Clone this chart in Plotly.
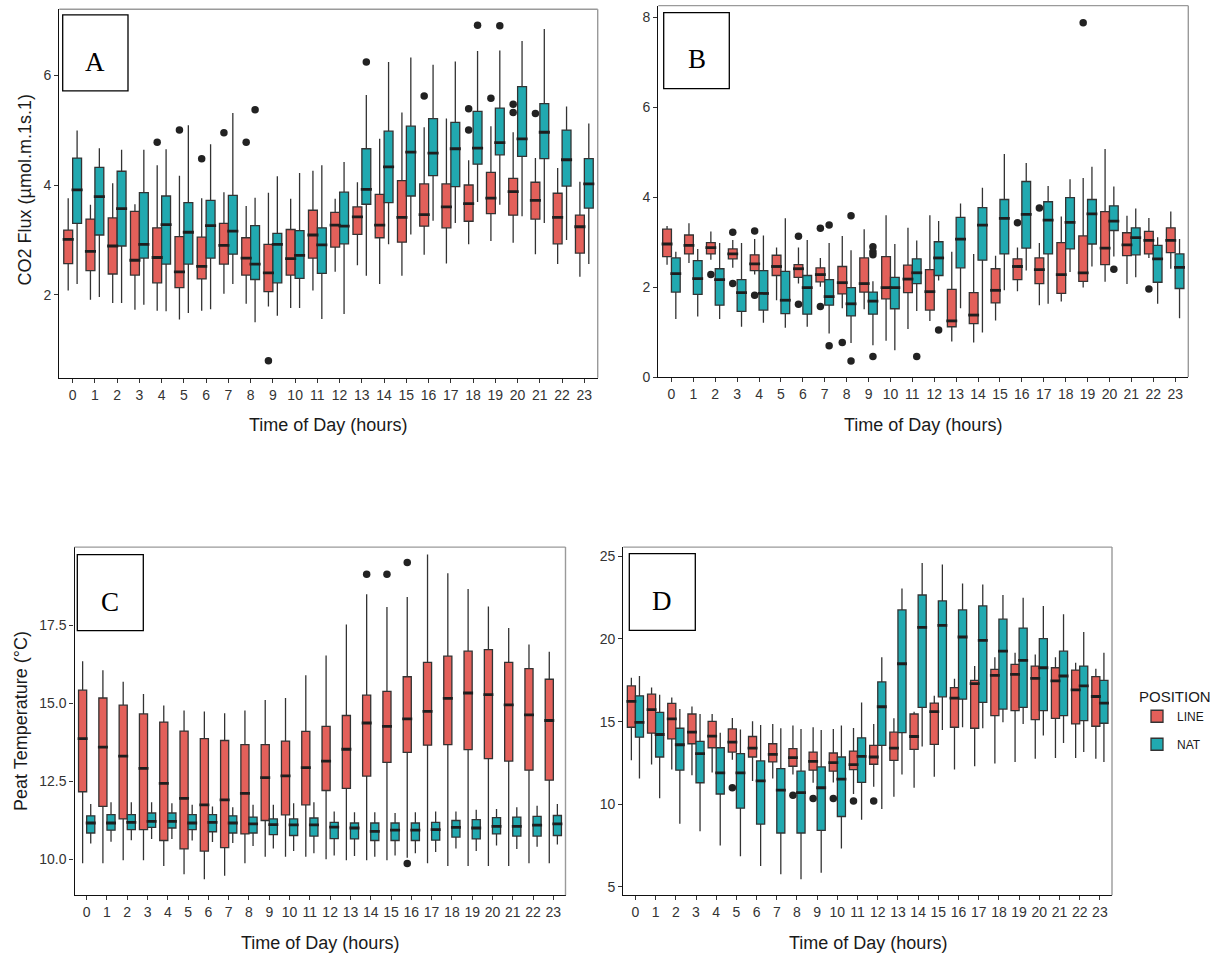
import plotly.graph_objects as go

# ---------------------------------------------------------------------------
# Hourly box statistics (q1, median, q3, whisker ends) for each panel
# ---------------------------------------------------------------------------
hours = list(range(24))
hour_labels = [str(h) for h in hours]

# A: CO2 flux
a_line_q3 = [3.18, 3.38, 3.40, 3.52, 3.22, 3.06, 3.05, 3.30, 3.04, 2.92, 3.19, 3.54, 3.50, 3.60, 3.83, 4.08, 4.02, 4.02, 4.00, 4.23, 4.12, 4.05, 3.85, 3.45]
a_line_med = [3.01, 2.79, 2.89, 2.63, 2.68, 2.42, 2.52, 2.90, 2.67, 2.40, 2.66, 3.09, 3.27, 3.42, 3.27, 3.41, 3.46, 3.60, 3.66, 3.76, 3.88, 3.72, 3.41, 3.24]
a_line_q1 = [2.57, 2.44, 2.38, 2.36, 2.22, 2.13, 2.29, 2.56, 2.36, 2.06, 2.36, 2.67, 2.87, 3.10, 3.04, 2.96, 3.25, 3.22, 3.34, 3.48, 3.45, 3.38, 2.93, 2.76]
a_line_hi = [3.76, 3.64, 4.03, 3.65, 4.36, 4.17, 3.76, 3.87, 3.62, 3.86, 3.75, 4.26, 3.75, 4.05, 4.84, 5.32, 5.05, 5.21, 4.45, 5.07, 4.96, 4.49, 4.31, 4.06]
a_line_lo = [2.08, 1.91, 1.85, 1.73, 1.71, 1.55, 1.71, 2.02, 1.84, 1.79, 1.76, 2.08, 2.42, 2.54, 2.20, 2.35, 2.73, 2.57, 2.92, 2.98, 2.95, 2.74, 2.56, 2.33]
a_line_out_h = [4, 5, 6, 7, 8, 9, 16, 18, 18, 19, 20, 20, 21]
a_line_out_v = [4.78, 5.00, 4.48, 4.95, 4.78, 0.80, 5.62, 5.39, 5.00, 5.58, 5.47, 5.32, 5.30]

a_nat_q3 = [4.49, 4.32, 4.25, 3.86, 3.80, 3.68, 3.72, 3.81, 3.26, 3.12, 3.17, 3.22, 3.87, 4.66, 4.98, 5.07, 5.21, 5.14, 5.34, 5.40, 5.79, 5.48, 5.00, 4.48]
a_nat_med = [3.91, 3.79, 3.57, 2.92, 3.28, 3.14, 3.26, 3.16, 2.56, 2.92, 2.72, 2.91, 3.25, 3.92, 4.33, 4.60, 4.58, 4.66, 4.67, 4.77, 4.84, 4.96, 4.46, 4.02]
a_nat_q1 = [3.30, 3.09, 2.89, 2.67, 2.56, 2.56, 2.67, 2.74, 2.28, 2.22, 2.30, 2.39, 2.93, 3.65, 3.68, 3.80, 4.17, 3.97, 4.38, 4.55, 4.52, 4.48, 3.98, 3.58]
a_nat_hi = [4.99, 4.67, 4.64, 4.64, 4.65, 5.09, 4.74, 5.31, 3.77, 4.16, 4.22, 4.36, 4.42, 5.64, 6.24, 6.32, 6.19, 6.25, 6.44, 6.45, 6.62, 6.84, 5.43, 5.12]
a_nat_lo = [2.20, 1.96, 1.85, 1.82, 1.70, 1.67, 1.74, 2.20, 1.50, 1.62, 1.76, 1.56, 1.65, 2.35, 2.92, 3.10, 3.35, 3.31, 3.69, 3.64, 3.43, 3.31, 3.00, 2.56]
a_nat_out_h = [8, 13, 18, 19]
a_nat_out_v = [5.37, 6.24, 6.91, 6.90]

# B: second flux panel
b_line_q3 = [3.29, 3.16, 2.99, 2.85, 2.72, 2.71, 2.50, 2.43, 2.46, 2.65, 2.68, 2.49, 2.39, 1.95, 1.88, 2.41, 2.63, 2.65, 2.99, 3.14, 3.68, 3.21, 3.24, 3.32]
b_line_med = [2.96, 2.93, 2.88, 2.74, 2.52, 2.46, 2.41, 2.28, 2.10, 2.08, 1.99, 2.18, 1.90, 1.25, 1.38, 1.93, 2.46, 2.39, 2.28, 2.32, 2.87, 2.94, 3.04, 3.04]
b_line_q1 = [2.68, 2.74, 2.74, 2.63, 2.37, 2.26, 2.22, 2.12, 1.85, 1.89, 1.74, 1.88, 1.49, 1.12, 1.19, 1.65, 2.17, 2.08, 1.86, 2.13, 2.50, 2.70, 2.74, 2.77]
b_line_hi = [3.36, 3.42, 3.24, 3.05, 3.07, 2.88, 2.88, 2.65, 3.14, 3.29, 3.60, 3.32, 3.60, 2.79, 2.74, 2.70, 2.88, 2.98, 3.57, 4.43, 5.07, 3.59, 3.54, 3.68]
b_line_lo = [2.50, 2.54, 2.61, 2.43, 2.28, 1.71, 2.08, 2.01, 1.53, 1.51, 0.81, 1.07, 1.25, 0.79, 0.77, 1.26, 1.91, 1.60, 1.68, 1.99, 2.12, 2.07, 2.65, 2.41]
b_line_out_h = [2, 3, 3, 4, 4, 6, 6, 7, 7, 8, 16, 17, 19, 22]
b_line_out_v = [2.28, 3.22, 2.08, 3.25, 1.82, 3.13, 1.62, 3.31, 1.57, 0.77, 3.43, 3.76, 7.88, 1.96]

b_nat_q3 = [2.65, 2.59, 2.41, 2.17, 2.37, 2.35, 2.26, 2.17, 1.99, 1.89, 2.22, 2.63, 3.01, 3.55, 3.77, 3.95, 4.35, 3.90, 3.99, 3.95, 3.81, 3.32, 2.93, 2.74]
b_nat_med = [2.30, 2.19, 2.17, 1.88, 1.86, 1.71, 1.99, 1.79, 1.63, 1.69, 1.99, 2.32, 2.65, 3.07, 3.38, 3.53, 3.62, 3.49, 3.44, 3.63, 3.47, 3.10, 2.63, 2.44]
b_nat_q1 = [1.89, 1.84, 1.60, 1.46, 1.49, 1.41, 1.40, 1.60, 1.36, 1.40, 1.52, 2.08, 2.26, 2.43, 2.60, 2.74, 2.87, 2.74, 2.85, 2.96, 3.26, 2.72, 2.11, 1.97]
b_nat_hi = [2.79, 2.85, 2.98, 2.98, 3.15, 3.53, 3.05, 2.98, 2.82, 2.13, 2.96, 3.04, 3.47, 3.86, 4.21, 4.96, 4.76, 4.25, 4.40, 4.68, 4.24, 3.75, 3.11, 3.07]
b_nat_lo = [1.29, 1.35, 1.29, 1.12, 1.21, 1.10, 1.12, 0.97, 0.76, 0.71, 0.60, 1.47, 2.15, 1.53, 0.99, 1.93, 2.37, 1.63, 2.34, 2.46, 2.68, 2.22, 1.63, 1.31]
b_nat_out_h = [7, 7, 8, 8, 9, 9, 9, 9, 11, 12, 20]
b_nat_out_v = [3.38, 0.70, 3.59, 0.36, 2.90, 2.79, 2.72, 0.46, 0.46, 1.05, 2.40]

# C: peat temperature
c_line_q3 = [15.42, 15.17, 14.94, 14.66, 14.40, 14.11, 13.87, 13.81, 13.68, 13.68, 13.79, 14.10, 14.26, 14.61, 15.26, 15.38, 15.85, 16.31, 16.51, 16.67, 16.72, 16.31, 16.11, 15.77]
c_line_med = [13.87, 13.60, 13.31, 12.92, 12.44, 11.96, 11.75, 11.91, 12.12, 12.62, 12.68, 12.94, 13.15, 13.53, 14.37, 14.26, 14.50, 14.74, 15.16, 15.33, 15.28, 14.95, 14.63, 14.45]
c_line_q1 = [12.17, 11.70, 11.30, 10.96, 10.61, 10.34, 10.27, 10.38, 10.82, 11.25, 11.43, 11.75, 12.21, 12.28, 12.67, 13.11, 13.43, 13.66, 13.68, 13.52, 13.23, 13.15, 12.86, 12.54]
c_line_hi = [16.35, 16.06, 15.69, 15.30, 14.93, 14.77, 14.74, 14.68, 14.77, 15.11, 15.17, 15.90, 16.53, 17.52, 18.49, 18.08, 18.40, 19.76, 19.16, 18.66, 18.10, 17.41, 16.88, 16.65]
c_line_lo = [9.88, 9.88, 9.98, 9.98, 9.79, 9.53, 9.37, 9.48, 9.88, 10.09, 10.09, 10.09, 10.01, 9.98, 9.98, 9.98, 10.06, 9.88, 9.79, 9.79, 9.79, 9.79, 9.88, 9.88]
c_line_out_h = [14, 15, 16, 16]
c_line_out_v = [19.13, 19.13, 19.51, 9.87]

c_nat_q3 = [11.40, 11.44, 11.44, 11.49, 11.49, 11.44, 11.44, 11.40, 11.36, 11.30, 11.30, 11.33, 11.19, 11.17, 11.17, 11.17, 11.17, 11.19, 11.25, 11.28, 11.34, 11.36, 11.38, 11.41]
c_nat_med = [11.17, 11.17, 11.19, 11.22, 11.22, 11.17, 11.19, 11.17, 11.14, 11.12, 11.11, 11.11, 11.04, 11.01, 10.90, 10.94, 10.94, 10.96, 11.03, 11.01, 11.06, 11.06, 11.10, 11.14]
c_nat_q1 = [10.85, 10.94, 10.96, 11.03, 11.01, 10.96, 10.89, 10.85, 10.85, 10.80, 10.77, 10.75, 10.67, 10.66, 10.61, 10.61, 10.61, 10.62, 10.72, 10.66, 10.82, 10.75, 10.75, 10.77]
c_nat_hi = [11.78, 11.83, 11.83, 11.83, 11.80, 11.75, 11.70, 11.67, 11.75, 11.75, 11.80, 11.83, 11.54, 11.51, 11.51, 11.49, 11.51, 11.54, 11.54, 11.59, 11.62, 11.67, 11.72, 11.78]
c_nat_lo = [10.51, 10.57, 10.62, 10.66, 10.66, 10.61, 10.56, 10.53, 10.43, 10.35, 10.27, 10.20, 10.13, 10.11, 10.09, 10.13, 10.20, 10.24, 10.35, 10.27, 10.45, 10.34, 10.41, 10.48]
c_nat_out_h = []
c_nat_out_v = []

# D: second temperature panel
d_line_q3 = [17.16, 16.66, 16.10, 15.46, 15.02, 14.56, 14.10, 13.66, 13.36, 13.16, 13.10, 13.22, 13.56, 14.36, 15.46, 16.12, 17.06, 17.50, 18.16, 18.46, 18.36, 18.26, 18.12, 17.72]
d_line_med = [16.22, 15.72, 15.16, 14.36, 14.12, 13.76, 13.40, 13.02, 12.82, 12.60, 12.52, 12.40, 12.86, 13.40, 14.10, 15.60, 16.42, 17.30, 17.80, 17.86, 17.62, 17.46, 16.92, 16.52]
d_line_q1 = [14.66, 14.30, 13.96, 13.66, 13.42, 13.16, 12.86, 12.56, 12.30, 12.06, 12.00, 12.10, 12.42, 12.66, 13.32, 13.62, 14.66, 14.60, 15.36, 15.66, 15.12, 15.20, 14.86, 14.72]
d_line_hi = [17.66, 17.06, 16.46, 15.92, 15.46, 15.22, 15.02, 14.86, 14.76, 14.66, 14.56, 14.62, 14.86, 15.20, 15.60, 16.56, 17.60, 18.36, 18.90, 19.16, 19.06, 18.90, 18.56, 18.20]
d_line_lo = [12.66, 12.40, 12.10, 11.76, 11.92, 12.70, 11.40, 11.56, 11.80, 11.30, 11.32, 10.62, 11.06, 10.46, 11.00, 11.66, 12.10, 12.30, 12.46, 12.56, 12.76, 12.80, 12.80, 12.76]
d_line_out_h = [5, 8, 9, 10, 11, 12]
d_line_out_v = [11.0, 10.55, 10.35, 10.35, 10.2, 10.2]

d_nat_q3 = [16.56, 15.56, 14.60, 13.80, 13.42, 13.06, 12.62, 12.16, 12.00, 12.26, 12.86, 14.02, 17.40, 21.76, 22.66, 22.30, 21.76, 22.00, 21.20, 20.66, 20.02, 19.26, 18.36, 17.50]
d_nat_med = [14.96, 14.22, 13.60, 13.06, 11.90, 11.90, 11.42, 10.86, 10.70, 11.00, 11.52, 12.90, 15.90, 18.50, 20.70, 20.82, 20.12, 19.92, 19.26, 18.70, 18.26, 17.76, 17.16, 16.12]
d_nat_q1 = [14.06, 12.86, 12.06, 11.30, 10.62, 9.76, 8.80, 8.26, 8.26, 8.42, 9.26, 11.32, 13.56, 14.34, 15.86, 16.50, 16.36, 16.16, 15.76, 15.86, 15.66, 15.36, 15.06, 14.90]
d_nat_hi = [17.76, 16.62, 15.76, 15.46, 14.32, 14.52, 14.80, 14.60, 14.56, 14.50, 14.76, 16.16, 18.90, 23.06, 24.60, 24.50, 23.36, 23.30, 22.66, 22.50, 22.00, 21.50, 20.42, 19.16]
d_nat_lo = [11.56, 10.36, 8.82, 8.36, 7.50, 6.86, 6.26, 5.76, 5.46, 5.86, 7.32, 9.06, 9.72, 11.80, 13.50, 14.50, 14.66, 14.60, 14.96, 14.86, 14.16, 13.70, 13.16, 12.56]
d_nat_out_h = []
d_nat_out_v = []

# ---------------------------------------------------------------------------
# Styling
# ---------------------------------------------------------------------------
W, H = 1218, 957
LINE_FILL = "#E3605A"
NAT_FILL = "#21A9B0"
EDGE = "#333333"
FONT = "Liberation Sans, Arial, sans-serif"
SERIF = "Liberation Serif, Times New Roman, serif"
GROUP_OFFSET = 0.2  # half the dodge spacing between LINE and NAT boxes


def fx(p):
    return p / W


def fy(p):
    return 1 - p / H


# panel frames in pixels: left, right, top, bottom
panels = [
    dict(ax="", frame=(59.3, 597.7, 9.3, 381.0), yrange=[0.49, 7.20],
         yticks=[2, 4, 6], yticktext=["2", "4", "6"],
         line=(a_line_q1, a_line_med, a_line_q3, a_line_lo, a_line_hi, a_line_out_h, a_line_out_v),
         nat=(a_nat_q1, a_nat_med, a_nat_q3, a_nat_lo, a_nat_hi, a_nat_out_h, a_nat_out_v),
         tag="A", tagbox=(62.7, 128.0, 15.0, 91.7)),
    dict(ax="2", frame=(658.3, 1188.3, 5.7, 380.3), yrange=[0.0, 8.26],
         yticks=[0, 2, 4, 6, 8], yticktext=["0", "2", "4", "6", "8"],
         line=(b_line_q1, b_line_med, b_line_q3, b_line_lo, b_line_hi, b_line_out_h, b_line_out_v),
         nat=(b_nat_q1, b_nat_med, b_nat_q3, b_nat_lo, b_nat_hi, b_nat_out_h, b_nat_out_v),
         tag="B", tagbox=(663.7, 729.3, 12.7, 89.3)),
    dict(ax="3", frame=(74.5, 565.5, 551.7, 902.7), yrange=[8.86, 20.0],
         yticks=[10, 12.5, 15, 17.5], yticktext=["10.0", "12.5", "15.0", "17.5"],
         line=(c_line_q1, c_line_med, c_line_q3, c_line_lo, c_line_hi, c_line_out_h, c_line_out_v),
         nat=(c_nat_q1, c_nat_med, c_nat_q3, c_nat_lo, c_nat_hi, c_nat_out_h, c_nat_out_v),
         tag="C", tagbox=(77.3, 143.3, 559.3, 636.0)),
    dict(ax="4", frame=(623.3, 1112.0, 551.7, 902.7), yrange=[4.5, 25.56],
         yticks=[5, 10, 15, 20, 25], yticktext=["5", "10", "15", "20", "25"],
         line=(d_line_q1, d_line_med, d_line_q3, d_line_lo, d_line_hi, d_line_out_h, d_line_out_v),
         nat=(d_nat_q1, d_nat_med, d_nat_q3, d_nat_lo, d_nat_hi, d_nat_out_h, d_nat_out_v),
         tag="D", tagbox=(629.3, 695.3, 558.3, 635.7)),
]

fig = go.Figure()
shapes = []
annotations = []
layout_axes = {}

for i, p in enumerate(panels):
    xa, ya = "x" + p["ax"], "y" + p["ax"]
    left, right, top, bottom = p["frame"]
    px_per_hour = (right - left) / 24.2
    median_len = px_per_hour * 2 * GROUP_OFFSET - 1

    for name, fill, stats, sign in (("LINE", LINE_FILL, p["line"], -1), ("NAT", NAT_FILL, p["nat"], 1)):
        q1, med, q3, lo, hi, out_h, out_v = stats
        fig.add_trace(go.Box(
            x=hours, q1=q1, median=med, q3=q3, lowerfence=lo, upperfence=hi,
            name=name, legendgroup=name, showlegend=(i == 0), offsetgroup=name,
            fillcolor=fill, line=dict(color=EDGE, width=1.3), whiskerwidth=0,
            boxpoints=False, xaxis=xa, yaxis=ya, hoverinfo="skip",
        ))
        # thick median bar drawn over each box
        fig.add_trace(go.Scatter(
            x=[h + sign * GROUP_OFFSET for h in hours], y=med, mode="markers",
            marker=dict(symbol="line-ew", size=median_len, line=dict(width=2.8, color="#1e1e1e")),
            showlegend=False, hoverinfo="skip", xaxis=xa, yaxis=ya,
        ))
        if out_h:
            fig.add_trace(go.Scatter(
                x=[h + sign * GROUP_OFFSET for h in out_h], y=out_v, mode="markers",
                marker=dict(size=7.5, color="#222222"),
                showlegend=False, hoverinfo="skip", xaxis=xa, yaxis=ya,
            ))

    layout_axes["xaxis" + p["ax"]] = dict(
        domain=[fx(left), fx(right)], anchor=ya, range=[-0.6, 23.6],
        tickmode="array", tickvals=hours, ticktext=hour_labels,
        showline=True, linecolor="#111111", linewidth=1.4,
        ticks="outside", ticklen=4, tickwidth=1.3, tickcolor="#333333",
        tickfont=dict(family=FONT, size=14, color="#333333"),
        showgrid=False, zeroline=False, fixedrange=True,
    )
    layout_axes["yaxis" + p["ax"]] = dict(
        domain=[fy(bottom), fy(top)], anchor=xa, range=p["yrange"],
        tickmode="array", tickvals=p["yticks"], ticktext=p["yticktext"],
        showline=True, linecolor="#111111", linewidth=1.4,
        ticks="outside", ticklen=4, tickwidth=1.3, tickcolor="#333333",
        tickfont=dict(family=FONT, size=14, color="#333333"),
        showgrid=False, zeroline=False, fixedrange=True,
    )

    # light frame on the top and right edges of the panel
    shapes.append(dict(type="line", xref="paper", yref="paper",
                       x0=fx(left), x1=fx(right), y0=fy(top), y1=fy(top),
                       line=dict(color="#9a9a9a", width=1.4)))
    shapes.append(dict(type="line", xref="paper", yref="paper",
                       x0=fx(right), x1=fx(right), y0=fy(bottom), y1=fy(top),
                       line=dict(color="#9a9a9a", width=1.4)))

    # panel letter in a boxed label
    bl, br, bt, bb = p["tagbox"]
    shapes.append(dict(type="rect", xref="paper", yref="paper",
                       x0=fx(bl), x1=fx(br), y0=fy(bb), y1=fy(bt),
                       line=dict(color="#000000", width=1.3), fillcolor="white"))
    annotations.append(dict(text=p["tag"], xref="paper", yref="paper",
                            x=fx((bl + br) / 2), y=fy((bt + bb) / 2 + 9),
                            showarrow=False, xanchor="center", yanchor="middle",
                            font=dict(family=SERIF, size=27, color="#000000")))

    # x-axis title
    annotations.append(dict(text="Time of Day (hours)", xref="paper", yref="paper",
                            x=fx((left + right) / 2), y=fy(bottom + 48),
                            showarrow=False, xanchor="center", yanchor="middle",
                            font=dict(family=FONT, size=18, color="#1a1a1a")))

# y-axis titles for the left-hand panels
annotations.append(dict(text="CO2 Flux (µmol.m.1s.1)", xref="paper", yref="paper",
                        x=fx(25), y=fy(192), textangle=-90, showarrow=False,
                        xanchor="center", yanchor="middle",
                        font=dict(family=FONT, size=18, color="#1a1a1a")))
annotations.append(dict(text="Peat Temperature (°C)", xref="paper", yref="paper",
                        x=fx(21), y=fy(727), textangle=-90, showarrow=False,
                        xanchor="center", yanchor="middle",
                        font=dict(family=FONT, size=18, color="#1a1a1a")))

fig.update_layout(
    width=W, height=H,
    margin=dict(l=0, r=0, t=0, b=0),
    paper_bgcolor="white", plot_bgcolor="white",
    boxmode="group", boxgap=0.2, boxgroupgap=0.0,
    shapes=shapes, annotations=annotations,
    font=dict(family=FONT, color="#1a1a1a"),
    legend=dict(
        x=fx(1137), y=fy(688), xanchor="left", yanchor="top",
        title=dict(text="POSITION", font=dict(family=FONT, size=15, color="#1a1a1a")),
        font=dict(family=FONT, size=12, color="#1a1a1a"),
        bgcolor="rgba(0,0,0,0)", itemwidth=30, tracegroupgap=9,
    ),
    **layout_axes,
)

fig.write_html("out.html")
